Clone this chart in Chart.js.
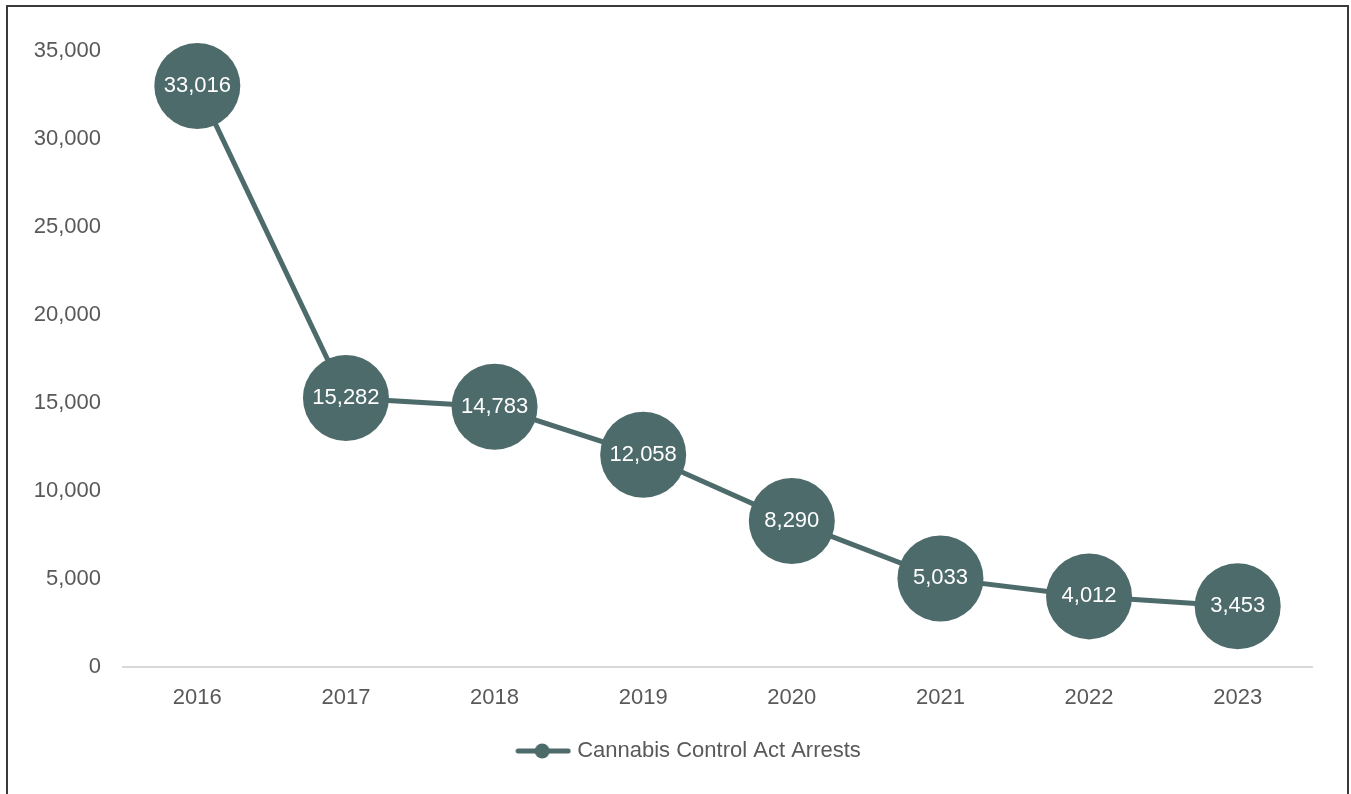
<!DOCTYPE html>
<html>
<head>
<meta charset="utf-8">
<script src="https://cdn.jsdelivr.net/npm/chart.js@4/dist/chart.umd.min.js"></script>
<style>
  html, body { margin: 0; padding: 0; background: #fff; overflow: hidden; }
  #frame {
    position: absolute; left: 6px; top: 5px;
    width: 1339px; height: 800px;
    border: 2px solid #3a3a3a; background: #fff;
  }
  #chart { display: block; }
</style>
</head>
<body>
<div id="frame"><canvas id="chart" width="1339" height="800"></canvas></div>
<script>
const years = ['2016', '2017', '2018', '2019', '2020', '2021', '2022', '2023'];
const arrests = [33016, 15282, 14783, 12058, 8290, 5033, 4012, 3453];
const yTicks = [0, 5000, 10000, 15000, 20000, 25000, 30000, 35000];

const seriesColor = '#4e6b6b';
const textColor = '#595959';
const fontFamily = '"Liberation Sans", Arial, sans-serif';

// legend symbol: short line with a dot in the middle
const legendIcon = document.createElement('canvas');
legendIcon.width = 56;
legendIcon.height = 18;
const ictx = legendIcon.getContext('2d');
ictx.strokeStyle = seriesColor;
ictx.lineWidth = 5;
ictx.lineCap = 'round';
ictx.beginPath();
ictx.moveTo(3, 9);
ictx.lineTo(53, 9);
ictx.stroke();
ictx.fillStyle = seriesColor;
ictx.beginPath();
ictx.arc(27, 9, 7.5, 0, Math.PI * 2);
ictx.fill();

const valueLabels = {
  id: 'valueLabels',
  afterDatasetsDraw(chart) {
    const ctx = chart.ctx;
    const meta = chart.getDatasetMeta(0);
    ctx.save();
    ctx.font = '22px ' + fontFamily;
    ctx.fillStyle = '#ffffff';
    ctx.textAlign = 'center';
    ctx.textBaseline = 'middle';
    meta.data.forEach((pt, i) => {
      ctx.fillText(arrests[i].toLocaleString('en-US'), pt.x, pt.y);
    });
    ctx.restore();
  }
};

// y labels are wider than the narrow axis box; widen the box's clip area
const unclipY = {
  id: 'unclipY',
  afterLayout(chart) { chart.scales.y.left = 0; }
};

new Chart(document.getElementById('chart'), {
  type: 'line',
  data: {
    labels: years,
    datasets: [{
      label: 'Cannabis Control Act Arrests',
      data: arrests,
      borderColor: seriesColor,
      backgroundColor: seriesColor,
      borderWidth: 5,
      pointRadius: 43,
      pointHoverRadius: 43,
      pointBorderWidth: 0,
      pointStyle: 'circle',
      clip: false,
      tension: 0
    }]
  },
  options: {
    responsive: false,
    animation: false,
    layout: { autoPadding: false, padding: { left: 61, right: 35, top: 44, bottom: 35 } },
    plugins: {
      tooltip: { enabled: false },
      legend: {
        position: 'bottom',
        labels: {
          usePointStyle: true,
          pointStyle: legendIcon,
          pointStyleWidth: 46,
          color: textColor,
          padding: 10,
          font: { family: fontFamily, size: 22 }
        }
      }
    },
    scales: {
      x: {
        offset: true,
        grid: { display: false, drawTicks: false },
        border: { display: true, color: '#d9d9d9', width: 2 },
        ticks: { color: textColor, padding: 18, font: { family: fontFamily, size: 22 } },
        afterFit(scale) { scale.height = 63; }
      },
      y: {
        min: 0,
        max: 35000,
        afterBuildTicks(scale) { scale.ticks = yTicks.map(v => ({ value: v })); },
        grid: { display: false, drawTicks: false },
        border: { display: false },
        ticks: {
          color: textColor,
          padding: 22,
          font: { family: fontFamily, size: 22 },
          callback: v => v.toLocaleString('en-US')
        },
        afterFit(scale) { scale.width = 54; }
      }
    }
  },
  plugins: [valueLabels, unclipY]
});
</script>
</body>
</html>
